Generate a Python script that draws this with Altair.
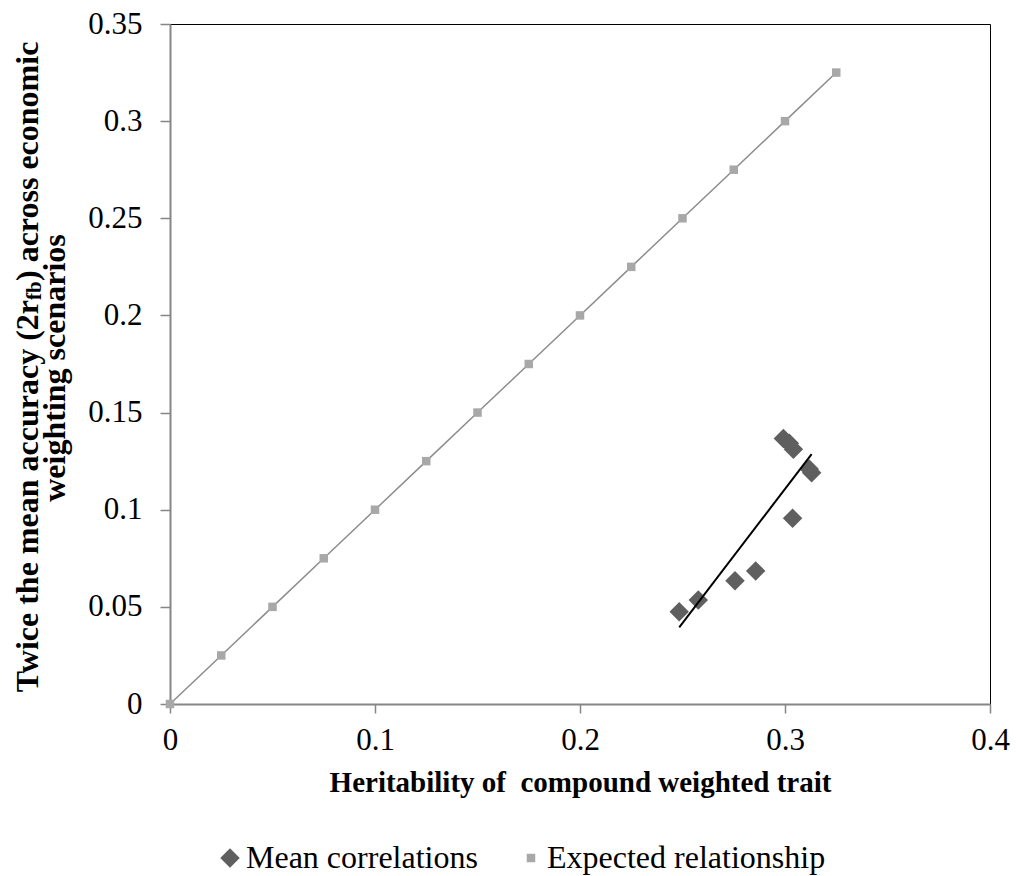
import altair as alt
import pandas as pd

# Mean correlations (diamonds)
h_mean = [0.2484, 0.2577, 0.2756, 0.2857, 0.3037, 0.2992, 0.3021, 0.3041, 0.3130, 0.3118]
r_mean = [0.0475, 0.0535, 0.0635, 0.0685, 0.0956, 0.1367, 0.1342, 0.1311, 0.1190, 0.1210]

# Expected relationship (squares)
h_exp = [0.0, 0.025, 0.05, 0.075, 0.1, 0.125, 0.15, 0.175, 0.2, 0.225, 0.25, 0.275, 0.3, 0.325]
r_exp = [0.0, 0.025, 0.05, 0.075, 0.1, 0.125, 0.15, 0.175, 0.2, 0.225, 0.25, 0.275, 0.3, 0.325]

series_names = ["Mean correlations", "Expected relationship"]
x_ticks = [0, 0.1, 0.2, 0.3, 0.4]
y_ticks = [0, 0.05, 0.1, 0.15, 0.2, 0.25, 0.3, 0.35]

x_title = "Heritability of\u00a0 compound weighted trait"
y_title_a = "Twice the mean accuracy (2r"
y_title_sub = "fb"
y_title_c = ") across economic"
y_title_2 = "weighting scenarios"

FONT = "Liberation Serif"

df_mean = pd.DataFrame({"h": h_mean, "r": r_mean, "series": series_names[0]})
df_exp = pd.DataFrame({"h": h_exp, "r": r_exp, "series": series_names[1]})
df_pts = pd.concat([df_exp, df_mean], ignore_index=True)

xs = alt.Scale(domain=[0, 0.4], nice=False, zero=False)
ys = alt.Scale(domain=[0, 0.35], nice=False, zero=False)

x_enc = alt.X("h:Q", scale=xs, axis=alt.Axis(
    values=x_ticks, format="~g", title=x_title, grid=False,
    labelFont=FONT, labelFontSize=31, labelColor="black", labelPadding=12,
    titleFont=FONT, titleFontSize=29, titleFontWeight="bold", titleColor="black", titlePadding=13,
    domainColor="#868686", domainWidth=2, tickColor="#868686", tickWidth=1.5, tickSize=9,
    labelFlush=False))
y_enc = alt.Y("r:Q", scale=ys, axis=alt.Axis(
    values=y_ticks, format="~g", title=None, grid=False,
    labelFont=FONT, labelFontSize=31, labelColor="black", labelPadding=18,
    domainColor="#868686", domainWidth=2, tickColor="#868686", tickWidth=1.5, tickSize=10,
    labelFlush=False))

leg = alt.Legend(title=None, orient="none", direction="horizontal", legendX=44, legendY=818,
                 labelFont=FONT, labelFontSize=32, labelColor="black", labelOffset=0,
                 labelLimit=0, columnPadding=37, padding=0, symbolStrokeWidth=0)

exp_line = alt.Chart(df_exp).mark_line(color="#8c8c8c", strokeWidth=1.5).encode(
    x=x_enc, y=y_enc)

points = alt.Chart(df_pts).mark_point(filled=True, opacity=1, strokeWidth=0).encode(
    x=x_enc, y=y_enc,
    color=alt.Color("series:N", scale=alt.Scale(domain=series_names, range=["#5f5f5f", "#a8a8a8"]), legend=leg),
    shape=alt.Shape("series:N", scale=alt.Scale(domain=series_names, range=["diamond", "square"]), legend=leg),
    size=alt.Size("series:N", scale=alt.Scale(domain=series_names, range=[380, 72]), legend=leg),
)

trend = alt.Chart(df_mean).transform_regression("h", "r").mark_line(
    color="black", strokeWidth=2).encode(x=x_enc, y=y_enc)

# rotated two-line y title with subscript
FS = 32
FSS = 21
anchor_y = 276
line1_x = -142
line2_x = -115
title_df = pd.DataFrame({"t": [0]})
ta = alt.Chart(title_df).mark_text(font=FONT, fontSize=FS, fontWeight="bold", angle=270,
                                   align="right", baseline="middle", color="black").encode(
    x=alt.value(line1_x), y=alt.value(anchor_y), text=alt.value(y_title_a))
tsub = alt.Chart(title_df).mark_text(font=FONT, fontSize=FSS, fontWeight="bold", angle=270,
                                     align="left", baseline="middle", color="black").encode(
    x=alt.value(line1_x + 7), y=alt.value(anchor_y), text=alt.value(y_title_sub))
tc = alt.Chart(title_df).mark_text(font=FONT, fontSize=FS, fontWeight="bold", angle=270,
                                   align="left", baseline="middle", color="black").encode(
    x=alt.value(line1_x), y=alt.value(anchor_y - 19), text=alt.value(y_title_c))
t2 = alt.Chart(title_df).mark_text(font=FONT, fontSize=FS, fontWeight="bold", angle=270,
                                   align="center", baseline="middle", color="black").encode(
    x=alt.value(line2_x), y=alt.value(344), text=alt.value(y_title_2))

chart = alt.layer(exp_line, points, trend, ta, tsub, tc, t2).properties(
    width=820, height=680,
    autosize=alt.AutoSizeParams(type="none"),
    padding={"left": 162, "top": 16, "right": 21, "bottom": 172},
    background="white",
).configure_view(stroke="black", strokeWidth=1)

chart.save("out.html", embed_options={"renderer": "svg", "actions": False})
